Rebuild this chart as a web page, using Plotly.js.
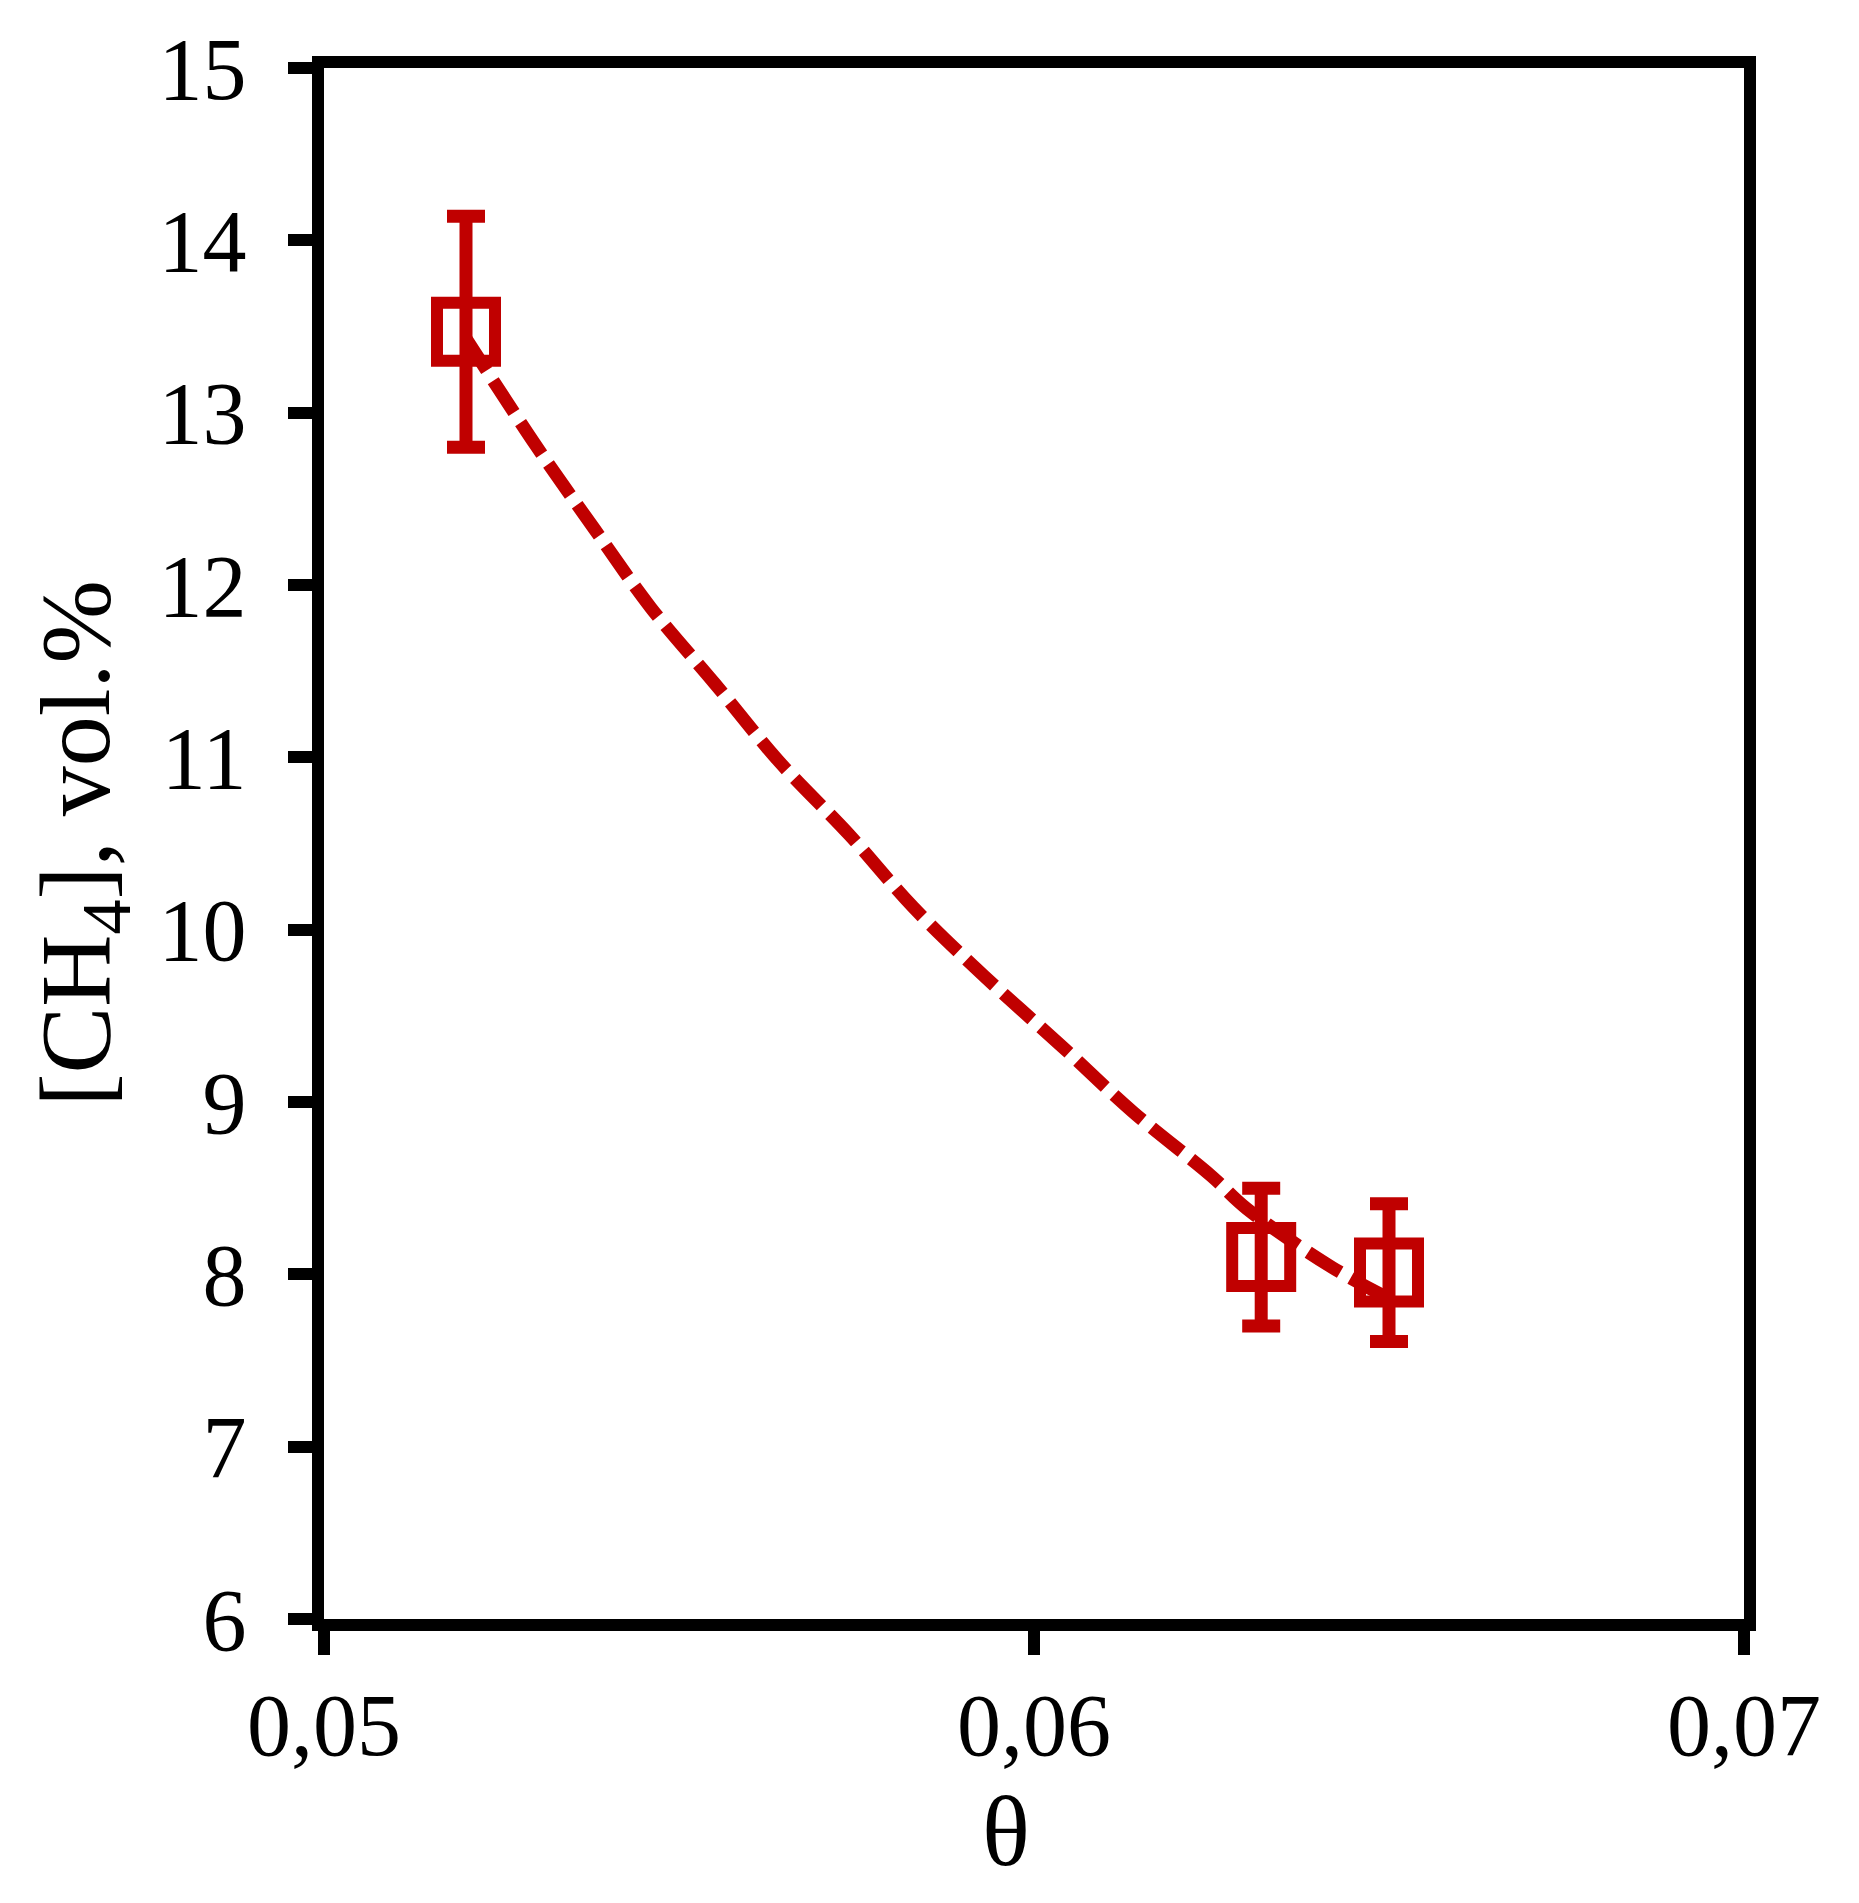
<!DOCTYPE html>
<html>
<head>
<meta charset="utf-8">
<script src="https://cdn.plot.ly/plotly-3.0.1.min.js"></script>
<style>
  html, body { margin: 0; padding: 0; background: #ffffff; }
  #chart { width: 1859px; height: 1903px; }
</style>
</head>
<body>
<div id="chart"></div>
<script>
// Measured points
const theta = [0.0520, 0.0632, 0.0650];
const ch4 = [13.47, 8.10, 8.01];
const ch4Err = [0.67, 0.40, 0.40];

// Dashed trend line
const fitTheta = [0.0520, 0.0530, 0.0538, 0.0546, 0.0555, 0.0564, 0.0574, 0.0583, 0.0593, 0.0604, 0.0614, 0.0625, 0.0630, 0.0642, 0.0650];
const fitCh4 = [13.43, 12.80, 12.33, 11.87, 11.43, 10.98, 10.55, 10.13, 9.73, 9.32, 8.94, 8.57, 8.38, 8.04, 7.86];

// Axis ticks
const xTickVals = [0.05, 0.06, 0.07];
const xTickText = ['0,05', '0,06', '0,07'];
const yTickVals = [6, 7, 8, 9, 10, 11, 12, 13, 14, 15];
const yTickText = ['6', '7', '8', '9', '10', '11', '12', '13', '14', '15'];

// Axis titles
const xTitle = 'θ';
const yTitle = '[CH<sub>4</sub>], vol.%';

const red = '#C00000';
const fontFam = '"Liberation Serif", "Times New Roman", serif';

const traces = [
  {
    x: fitTheta,
    y: fitCh4,
    type: 'scatter',
    mode: 'lines',
    line: { color: red, width: 13, dash: '38px,12px', shape: 'spline' },
    hoverinfo: 'skip',
    showlegend: false
  },
  {
    x: theta,
    y: ch4,
    type: 'scatter',
    mode: 'markers',
    marker: { symbol: 'square-open', size: 58, color: red, line: { color: red, width: 12 } },
    error_y: { type: 'data', array: ch4Err, visible: true, color: red, thickness: 13, width: 19 },
    showlegend: false
  }
];

const layout = {
  width: 1859,
  height: 1903,
  margin: { l: 324, r: 115, t: 68, b: 284 },
  paper_bgcolor: '#ffffff',
  plot_bgcolor: '#ffffff',
  showlegend: false,
  font: { family: fontFam, color: '#000000', size: 88 },
  xaxis: {
    range: [0.05, 0.07],
    tickvals: xTickVals,
    ticktext: xTickText,
    ticks: 'outside',
    ticklen: 24,
    tickwidth: 12,
    tickcolor: '#000000',
    showline: true,
    linewidth: 12,
    linecolor: '#000000',
    mirror: true,
    showgrid: false,
    zeroline: false,
    tickfont: { family: fontFam, size: 88, color: '#000000' },
    ticklabelstandoff: -6
  },
  yaxis: {
    range: [6, 15],
    tickvals: yTickVals,
    ticktext: yTickText,
    ticks: 'outside',
    ticklen: 24,
    tickwidth: 12,
    tickcolor: '#000000',
    showline: true,
    linewidth: 12,
    linecolor: '#000000',
    mirror: true,
    showgrid: false,
    zeroline: false,
    tickfont: { family: fontFam, size: 88, color: '#000000' },
    ticklabelstandoff: 24,
    title: { text: yTitle, font: { family: fontFam, size: 100, color: '#000000' }, standoff: 20 }
  },
  annotations: [
    {
      text: xTitle,
      xref: 'x', x: 0.0596,
      yref: 'paper', y: -0.137,
      xanchor: 'center', yanchor: 'middle',
      showarrow: false,
      font: { family: fontFam, size: 100, color: '#000000' }
    }
  ]
};

Plotly.newPlot('chart', traces, layout, { displayModeBar: false, staticPlot: true });
</script>
</body>
</html>
